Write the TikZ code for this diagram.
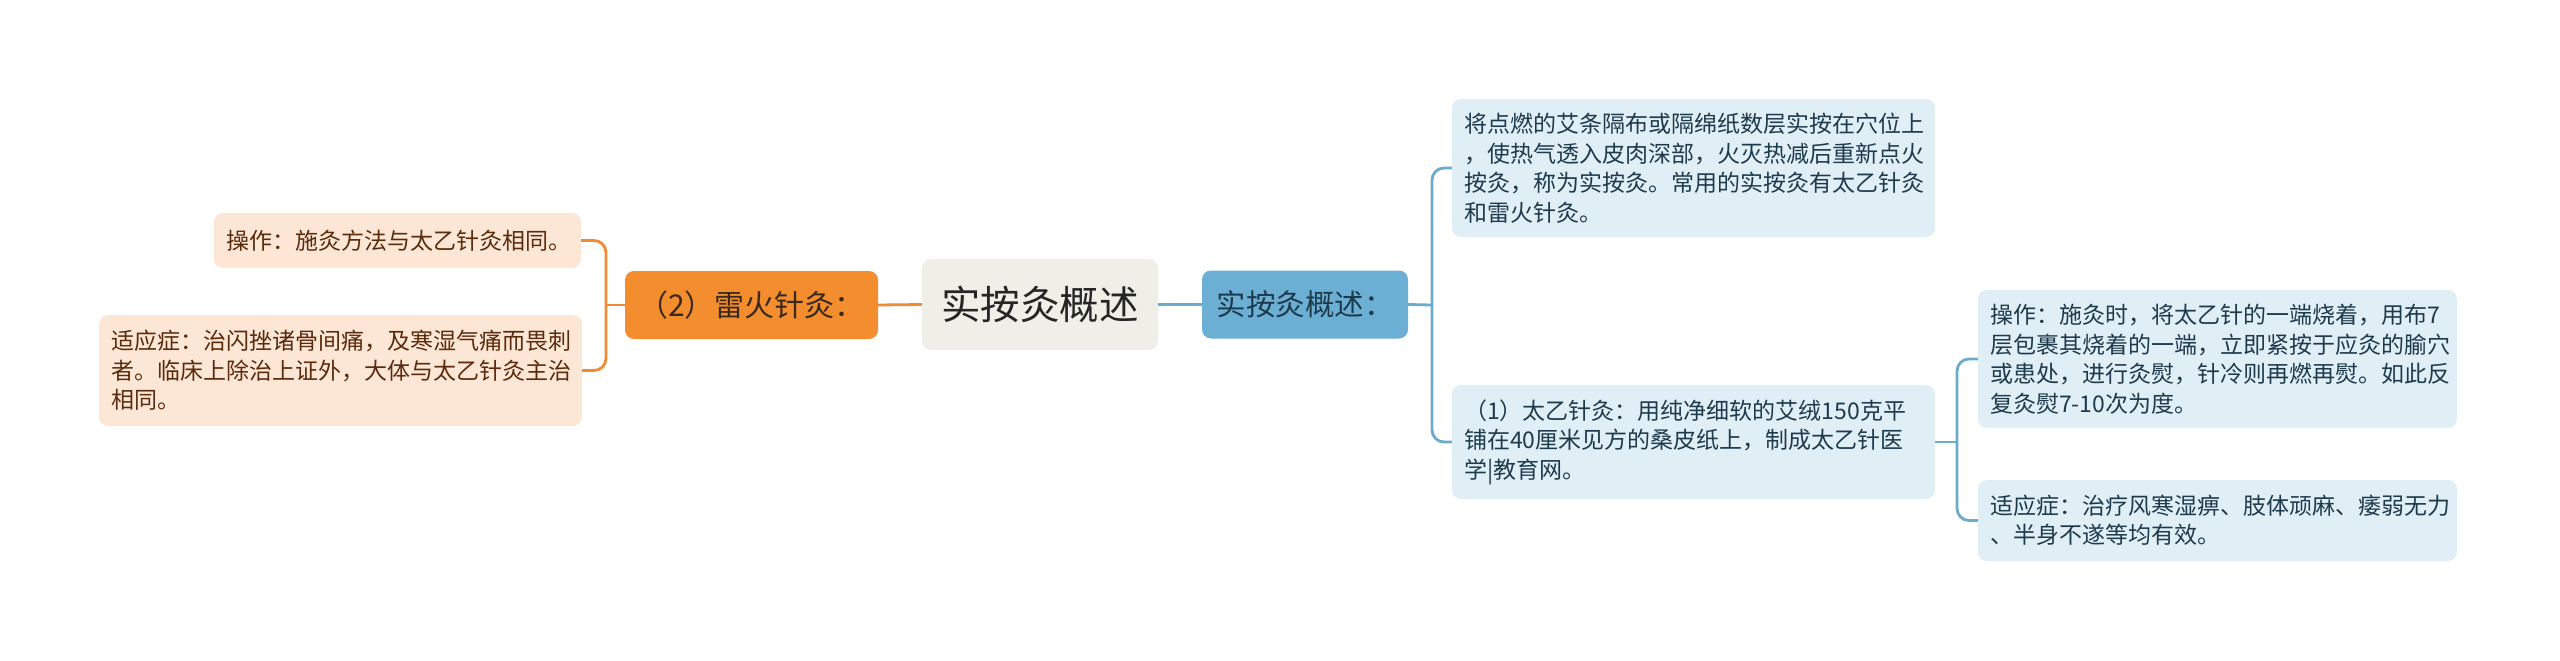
\documentclass[tikz,border=0pt]{standalone}
\usepackage{fontspec}
\setmainfont{Noto Sans CJK SC}
\hfuzz=60pt
\hbadness=10000
\definecolor{oline}{HTML}{EF8B35}
\definecolor{ofill}{HTML}{F48D2E}
\definecolor{peach}{HTML}{FCE6D6}
\definecolor{brownt}{HTML}{5A2C0C}
\definecolor{bline}{HTML}{6BAACB}
\definecolor{bfill}{HTML}{6BAFD4}
\definecolor{lblue}{HTML}{E0EEF6}
\definecolor{navyt}{HTML}{1E3B4C}
\definecolor{cfill}{HTML}{EFEFE8}
\definecolor{otext}{HTML}{3A2A1E}
\begin{document}
\begin{tikzpicture}[x=1pt,y=-1pt,
  box/.style={rectangle,rounded corners=9pt,inner ysep=0pt},
  leaf/.style={box,inner xsep=12pt,align=left,font=\fontsize{23}{29.5}\selectfont},
  lleaf/.style={leaf,fill=peach,text=brownt},
  rleaf/.style={leaf,fill=lblue,text=navyt},
  olink/.style={draw=oline,line width=2.8pt,rounded corners=12pt},
  blink/.style={draw=bline,line width=2.8pt,rounded corners=12pt}]
\useasboundingbox (0,0) rectangle (2560,661);

% central
\node[box,fill=cfill,minimum width=236pt,minimum height=91pt,align=center,
  font=\fontsize{39.5}{44}\selectfont,text=black!85] (c) at (1040,304.5) {实按灸概述};

% first level
\node[box,fill=ofill,minimum width=253pt,minimum height=68pt,align=center,
  font=\fontsize{30}{34}\selectfont,text=otext] (o) at (751.5,305) {（2）雷火针灸：};
\node[box,fill=bfill,minimum width=206pt,minimum height=68pt,align=center,
  font=\fontsize{29.5}{34}\selectfont,text=navyt] (b) at (1305,304.5) {实按灸概述：};

% left leaves
\node[lleaf,text width=343pt,minimum height=55pt] (lt) at (397.5,240.5) {操作：施灸方法与太乙针灸相同。};
\node[lleaf,text width=459pt,minimum height=111pt] (lb) at (340.5,370.5)
  {适应症：治闪挫诸骨间痛，及寒湿气痛而畏刺\\者。临床上除治上证外，大体与太乙针灸主治\\相同。};

% right leaves
\node[rleaf,text width=459pt,minimum height=138pt] (rt) at (1693.5,168)
  {将点燃的艾条隔布或隔绵纸数层实按在穴位上\\，使热气透入皮肉深部，火灭热减后重新点火\\按灸，称为实按灸。常用的实按灸有太乙针灸\\和雷火针灸。};
\node[rleaf,text width=459pt,minimum height=114pt] (r1) at (1693.5,442)
  {（1）太乙针灸：用纯净细软的艾绒150克平\\铺在40厘米见方的桑皮纸上，制成太乙针医\\学|教育网。};
\node[rleaf,text width=455pt,minimum height=138pt] (rr1) at (2217.5,359)
  {操作：施灸时，将太乙针的一端烧着，用布7\\层包裹其烧着的一端，立即紧按于应灸的腧穴\\或患处，进行灸熨，针冷则再燃再熨。如此反\\复灸熨7-10次为度。};
\node[rleaf,text width=455pt,minimum height=81pt] (rr2) at (2217.5,520.5)
  {适应症：治疗风寒湿痹、肢体顽麻、痿弱无力\\、半身不遂等均有效。};

% junctions
\coordinate (lj) at (606,305);
\coordinate (rj) at (1432,305);
\coordinate (rj2) at (1957,442);

% connectors
\draw[olink] (c.west) -- (o.east);
\draw[olink] (o.west) -- (lj);
\draw[olink] (lt.east) -- (lj |- lt.east) -- (lj |- lb.east) -- (lb.east);

\draw[blink] (c.east) -- (b.west);
\draw[blink] (b.east) -- (rj);
\draw[blink] (rt.west) -- (rj |- rt.west) -- (rj |- r1.west) -- (r1.west);
\draw[blink] (r1.east) -- (rj2);
\draw[blink] (rr1.west) -- (rj2 |- rr1.west) -- (rj2 |- rr2.west) -- (rr2.west);
\end{tikzpicture}
\end{document}
